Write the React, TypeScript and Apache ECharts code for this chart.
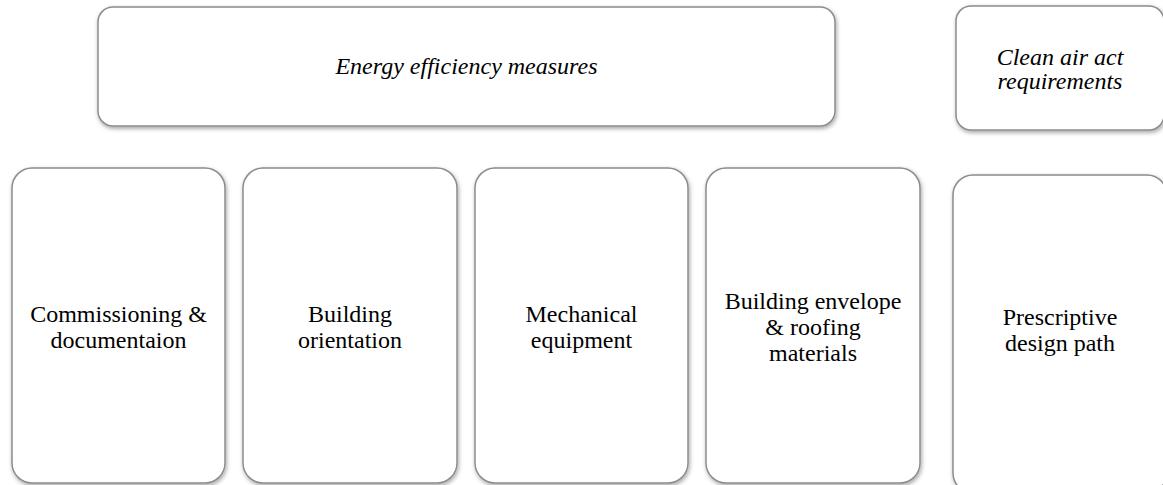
import React, { useEffect, useRef } from "react";
import * as echarts from "echarts";

// Content
const topLabels: string[] = ["Energy efficiency measures", "Clean air act\nrequirements"];
const bottomLabels: string[] = [
  "Commissioning &\ndocumentaion",
  "Building\norientation",
  "Mechanical\nequipment",
  "Building envelope\n& roofing\nmaterials",
  "Prescriptive\ndesign path",
];

// Layout (x, y, width, height, radius)
const topBoxes: number[][] = [
  [98, 7, 737, 119, 15],
  [956, 6, 208, 124, 15],
];
const bottomBoxes: number[][] = [
  [12, 168, 213, 315, 20],
  [243, 168, 214, 315, 20],
  [475, 168, 213, 315, 20],
  [706, 168, 214, 315, 20],
  [953, 175, 214, 318, 20],
];

const FONT = "Liberation Serif";

function boxEl(b: number[]) {
  return {
    type: "rect",
    shape: { x: b[0], y: b[1], width: b[2], height: b[3], r: b[4] },
    style: {
      fill: "#ffffff",
      stroke: "#8c8c8c",
      lineWidth: 1.5,
      shadowBlur: 4,
      shadowOffsetX: 1,
      shadowOffsetY: 2,
      shadowColor: "rgba(0,0,0,0.35)",
    },
    silent: true,
  };
}

function textEl(label: string, b: number[], italic: boolean, dy: number, size: number, lh: number) {
  return {
    type: "text",
    x: b[0] + b[2] / 2,
    y: b[1] + b[3] / 2 + dy,
    style: {
      text: label,
      align: "center",
      verticalAlign: "middle",
      fontFamily: FONT,
      fontSize: size,
      fontStyle: italic ? "italic" : "normal",
      lineHeight: lh,
      fill: "#000000",
    },
    silent: true,
  };
}

export default function App() {
  const ref = useRef<HTMLDivElement>(null);
  useEffect(() => {
    if (!ref.current) return;
    const chart = echarts.init(ref.current, undefined, { renderer: "svg" });
    const elements: any[] = [];
    topBoxes.forEach((b, i) => {
      elements.push(boxEl(b));
      elements.push(textEl(topLabels[i], b, true, i === 0 ? -1 : 1, 24, 24));
    });
    bottomBoxes.forEach((b, i) => {
      elements.push(boxEl(b));
      elements.push(textEl(bottomLabels[i], b, false, i === 4 ? -4 : 1, 24, 26));
    });
    chart.setOption({
      animation: false,
      backgroundColor: "#ffffff",
      graphic: { elements },
    });
    return () => chart.dispose();
  }, []);
  return (
    <div
      ref={ref}
      style={{ position: "fixed", left: 0, top: 0, width: 1163, height: 485 }}
    />
  );
}
